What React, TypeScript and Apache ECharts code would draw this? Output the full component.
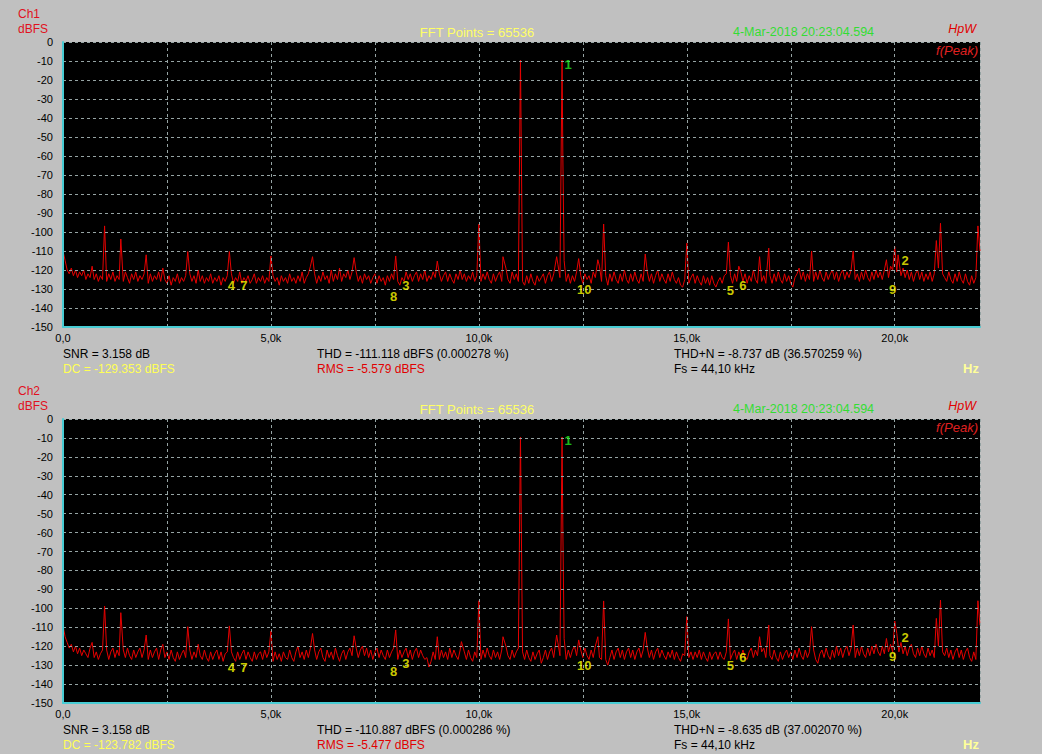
import React, { useEffect, useRef } from "react";
import * as echarts from "echarts";

// ---------- data ----------
const STEP_HZ = 50; // spacing of the noise-floor samples below
const F_MAX_HZ = 22050;
const Y_MIN_DB = -150;
const Y_MAX_DB = 0;

const xLabelTicksHz = [0, 5000, 10000, 15000, 20000];

// Noise floor, channel 1 (dBFS), one value every 50 Hz from 0 Hz to 22050 Hz
const ch1Floor = [
  -110,-115,-120,-122,-119,-123,-120,-124,-121,-123,-120,-125,-122,-124,-118,-125,-122,-126,-123,-125,
  -123,-126,-122,-125,-121,-126,-123,-125,-122,-126,-121,-124,-127,-122,-125,-121,-126,-123,-125,-122,
  -124,-127,-122,-126,-123,-125,-121,-126,-119,-125,-127,-123,-128,-124,-126,-122,-127,-124,-126,-123,
  -125,-122,-126,-123,-127,-120,-126,-123,-127,-124,-126,-122,-127,-124,-126,-123,-128,-124,-126,-123,
  -125,-122,-127,-124,-126,-121,-127,-124,-126,-123,-127,-125,-122,-127,-124,-126,-123,-127,-124,-126,
  -127,-123,-126,-124,-128,-123,-126,-124,-127,-122,-126,-124,-127,-123,-126,-121,-127,-124,-122,-118,
  -125,-122,-127,-123,-126,-121,-125,-123,-127,-120,-126,-122,-125,-119,-126,-122,-124,-120,-125,-121,
  -124,-121,-126,-123,-127,-122,-125,-123,-127,-124,-122,-127,-123,-126,-124,-128,-123,-126,-122,-125,
  -123,-126,-128,-124,-126,-121,-125,-122,-126,-123,-121,-126,-122,-125,-120,-126,-123,-125,-121,-124,
  -126,-122,-126,-123,-121,-126,-122,-125,-127,-122,-125,-120,-125,-122,-126,-123,-125,-121,-126,-123,
  -123,-126,-122,-125,-121,-125,-127,-122,-126,-123,-121,-126,-122,-119,-125,-127,-121,-125,-122,-126,
  -123,-126,-128,-123,-127,-122,-126,-128,-123,-126,-124,-122,-127,-123,-121,-126,-122,-120,-117,-124,
  -124,-115,-126,-122,-127,-123,-126,-121,-126,-123,-127,-122,-125,-123,-127,-121,-124,-120,-118,-126,
  -127,-123,-128,-122,-126,-121,-125,-127,-122,-126,-120,-125,-127,-122,-126,-121,-125,-127,-122,-126,
  -123,-121,-126,-122,-127,-123,-120,-126,-122,-125,-127,-122,-126,-121,-125,-127,-124,-128,-129,-125,
  -123,-127,-124,-122,-127,-123,-126,-128,-123,-127,-124,-128,-123,-127,-129,-126,-124,-127,-123,-122,
  -126,-123,-127,-122,-126,-123,-121,-126,-122,-127,-123,-126,-120,-125,-127,-122,-126,-123,-127,-122,
  -123,-127,-122,-126,-121,-125,-127,-122,-126,-123,-127,-129,-124,-122,-119,-125,-121,-126,-122,-125,
  -122,-126,-121,-125,-120,-124,-126,-121,-125,-122,-120,-125,-121,-126,-122,-120,-125,-121,-124,-120,
  -121,-125,-122,-126,-121,-125,-120,-124,-126,-121,-125,-120,-124,-121,-125,-120,-117,-124,-118,-120,
  -119,-121,-118,-123,-119,-124,-120,-125,-121,-126,-122,-120,-125,-121,-126,-122,-125,-121,-126,-122,
  -121,-119,-117,-122,-124,-126,-121,-125,-127,-122,-126,-121,-125,-127,-122,-126,-128,-123,-127,-124,
  -124,-110,
];

// Noise floor, channel 2 (dBFS), one value every 50 Hz from 0 Hz to 22050 Hz
const ch2Floor = [
  -109,-115,-118,-121,-119,-123,-120,-124,-121,-125,-122,-124,-126,-121,-118,-126,-123,-127,-124,-122,
  -126,-122,-127,-123,-121,-126,-122,-125,-127,-122,-126,-121,-125,-127,-122,-126,-123,-121,-126,-122,
  -123,-127,-122,-126,-123,-121,-127,-122,-119,-126,-123,-127,-122,-126,-128,-123,-127,-124,-122,-126,
  -126,-122,-127,-123,-126,-119,-125,-127,-122,-126,-128,-123,-127,-124,-122,-127,-123,-128,-124,-123,
  -127,-123,-126,-128,-123,-127,-124,-122,-127,-123,-126,-128,-123,-127,-124,-123,-127,-122,-126,-123,
  -126,-128,-123,-127,-124,-128,-123,-126,-127,-122,-126,-128,-123,-120,-126,-123,-127,-122,-126,-121,
  -126,-122,-127,-123,-121,-126,-128,-122,-126,-123,-127,-121,-125,-128,-124,-122,-127,-123,-121,-125,
  -123,-121,-126,-122,-120,-125,-121,-126,-122,-127,-123,-121,-126,-122,-125,-127,-122,-126,-123,-121,
  -125,-127,-122,-126,-123,-121,-126,-122,-127,-123,-121,-126,-122,-125,-127,-126,-131,-128,-123,-127,
  -123,-127,-122,-126,-123,-127,-121,-126,-122,-125,-127,-122,-126,-123,-127,-122,-126,-128,-123,-126,
  -123,-127,-122,-126,-121,-125,-127,-122,-126,-123,-127,-122,-126,-120,-125,-127,-122,-126,-123,-121,
  -126,-123,-127,-122,-126,-128,-123,-127,-124,-122,-129,-126,-122,-127,-123,-121,-126,-120,-118,-125,
  -124,-116,-127,-122,-126,-122,-120,-125,-127,-122,-126,-121,-125,-127,-122,-126,-120,-119,-126,-127,
  -123,-127,-130,-126,-122,-127,-123,-121,-126,-122,-127,-123,-121,-126,-122,-127,-123,-121,-126,-122,
  -125,-121,-126,-122,-127,-123,-121,-126,-122,-125,-127,-123,-126,-122,-127,-123,-126,-128,-124,-125,
  -122,-126,-123,-127,-123,-126,-122,-127,-123,-126,-128,-123,-127,-124,-123,-127,-123,-126,-127,-123,
  -125,-127,-124,-122,-127,-123,-126,-122,-126,-127,-123,-121,-126,-122,-125,-127,-123,-121,-126,-122,
  -125,-127,-122,-126,-128,-123,-127,-124,-122,-126,-123,-127,-122,-126,-121,-125,-127,-122,-126,-123,
  -126,-122,-127,-129,-124,-122,-126,-121,-125,-127,-122,-126,-120,-125,-121,-126,-122,-120,-125,-121,
  -124,-126,-121,-125,-120,-124,-126,-121,-125,-120,-124,-119,-123,-125,-120,-124,-117,-123,-119,-123,
  -120,-121,-123,-118,-124,-120,-125,-121,-119,-124,-126,-121,-125,-120,-124,-126,-121,-125,-122,-126,
  -122,-120,-118,-123,-125,-121,-126,-122,-127,-123,-121,-126,-122,-127,-123,-121,-126,-128,-123,-127,
  -126,-109,
];

// Spectral lines (Hz, dBFS)
const ch1SpikeHz = [1000, 1390, 2000, 3000, 4000, 5000, 6000, 7000, 8000, 9000, 10000, 10580, 11000, 11870, 12000, 12020, 12400, 12860, 13000, 14000, 15000, 16000, 16250, 16750, 16970, 18000, 19000, 19800, 20000, 20080, 21000, 21100, 22000];
const ch1SpikeDb = [-96.8, -103.7, -112, -110.3, -110.3, -112.6, -113, -113.5, -112.6, -115.3, -95.8, -113, -9.5, -113, -9.5, -62, -114, -114.6, -95.8, -111.6, -105.9, -105.3, -118, -113, -108.5, -110, -110, -114.6, -107.7, -112, -104.5, -95.4, -96.8];

const ch2SpikeHz = [1000, 1390, 2000, 3000, 4000, 5000, 6000, 7000, 8000, 9000, 9580, 10000, 10580, 11000, 11870, 12000, 12020, 12400, 12860, 13000, 14000, 15000, 16000, 16750, 16970, 18000, 19000, 19800, 20000, 20050, 21000, 21100, 22000];
const ch2SpikeDb = [-98.8, -102.3, -114.1, -109.7, -109.3, -112, -113.3, -114.5, -111.4, -115, -117.6, -96, -115, -9.5, -114.1, -9.5, -60, -116.7, -115, -96.1, -112.7, -104.4, -105.6, -115, -108.8, -109.7, -108.8, -115.9, -106.7, -113.3, -105.3, -95.6, -96];

// Harmonic markers: number, frequency (Hz), level of the label (dBFS)
const markerNames = ["1", "2", "3", "4", "5", "6", "7", "8", "9", "10"];
const markerHz = [12000, 20100, 8100, 3900, 15900, 16200, 4200, 7800, 19800, 12300];
const ch1MarkerDb = [-12.1, -115.1, -128.2, -128.4, -130.9, -127.9, -128.4, -134.1, -130.2, -130];
const ch2MarkerDb = [-11.6, -115.5, -129.1, -131.4, -130.3, -126.1, -131.4, -133.5, -125.2, -130.3];

// Texts
const channelNames = ["Ch1", "Ch2"];
const fftText = "FFT Points = 65536";
const dateText = "4-Mar-2018 20:23:04.594";
const snrTexts = ["SNR = 3.158 dB", "SNR = 3.158 dB"];
const thdTexts = ["THD = -111.118 dBFS (0.000278 %)", "THD = -110.887 dBFS (0.000286 %)"];
const thdnTexts = ["THD+N = -8.737 dB (36.570259 %)", "THD+N = -8.635 dB (37.002070 %)"];
const dcTexts = ["DC = -129.353 dBFS", "DC = -123.782 dBFS"];
const rmsTexts = ["RMS = -5.579 dBFS", "RMS = -5.477 dBFS"];
const fsTexts = ["Fs = 44,10 kHz", "Fs = 44,10 kHz"];

// ---------- helpers ----------
function buildTrace(floor: number[], spikeHz: number[], spikeDb: number[]): [number, number][] {
  const pts: [number, number][] = [];
  floor.forEach((v, i) => {
    const f = i * STEP_HZ;
    if (!spikeHz.some((s) => Math.abs(s - f) < 25)) pts.push([f, v]);
  });
  spikeHz.forEach((f, i) => pts.push([f, spikeDb[i]]));
  pts.sort((a, b) => a[0] - b[0]);
  return pts;
}

const FONT_FAMILY = "'Liberation Sans', Arial, sans-serif";
const font = (size: number, extra = "") => `${extra} ${size}px ${FONT_FAMILY}`.trim();

function txt(text: string, x: number, y: number, fill: string, f: string, align = "left") {
  return {
    type: "text",
    silent: true,
    z: 100,
    style: {
      text,
      x,
      y,
      fill,
      font: f,
      align,
      textAlign: align,
      verticalAlign: "middle",
      textVerticalAlign: "middle",
    },
  };
}

export default function App() {
  const ref = useRef<HTMLDivElement>(null);

  useEffect(() => {
    if (!ref.current) return;
    const chart = echarts.init(ref.current, undefined, { renderer: "svg" });

    const gridTops = [42, 419];
    const gridHeights = [285, 284];
    const floors = [ch1Floor, ch2Floor];
    const spikeHz = [ch1SpikeHz, ch2SpikeHz];
    const spikeDb = [ch1SpikeDb, ch2SpikeDb];
    const markerDb = [ch1MarkerDb, ch2MarkerDb];

    const axisLineStyle = { color: "#48ccd4", width: 2 };
    const splitLineStyle = { color: "#96a4a4", type: [3, 3] as any, width: 1 };

    const grids = gridTops.map((top, i) => ({
      left: 63,
      top,
      width: 917,
      height: gridHeights[i],
      show: true,
      backgroundColor: "#000000",
      borderWidth: 0,
    }));

    const xAxes = gridTops.map((_, i) => ({
      type: "value",
      gridIndex: i,
      min: 0,
      max: F_MAX_HZ,
      interval: 2500,
      axisLine: { show: true, onZero: false, lineStyle: axisLineStyle },
      axisTick: { show: false },
      splitLine: { show: true, lineStyle: splitLineStyle },
      axisLabel: {
        color: "#000",
        fontSize: 11,
        fontFamily: FONT_FAMILY,
        margin: 5,
        showMaxLabel: false,
        formatter: (v: number) =>
          xLabelTicksHz.includes(v) ? (v / 1000).toFixed(1).replace(".", ",") + (v === 0 ? "" : "k") : "",
      },
      z: 5,
    }));

    const yAxes = gridTops.map((_, i) => ({
      type: "value",
      gridIndex: i,
      min: Y_MIN_DB,
      max: Y_MAX_DB,
      interval: 10,
      axisLine: { show: true, onZero: false, lineStyle: axisLineStyle },
      axisTick: { show: false },
      splitLine: { show: true, lineStyle: splitLineStyle },
      axisLabel: { color: "#000", fontSize: 11, fontFamily: FONT_FAMILY, margin: 10 },
      z: 5,
    }));

    const series: any[] = [];
    gridTops.forEach((_, i) => {
      series.push({
        type: "line",
        xAxisIndex: i,
        yAxisIndex: i,
        data: buildTrace(floors[i], spikeHz[i], spikeDb[i]),
        showSymbol: false,
        symbol: "none",
        silent: true,
        clip: true,
        lineStyle: { color: "#e60000", width: 1 },
        z: 3,
      });
      series.push({
        type: "scatter",
        xAxisIndex: i,
        yAxisIndex: i,
        symbolSize: 1,
        silent: true,
        itemStyle: { color: "rgba(0,0,0,0)" },
        data: markerNames.map((n, k) => ({
          name: n,
          value: [markerHz[k], markerDb[i][k]],
          label: { color: n === "1" ? "#22ee22" : "#ffff00" },
        })),
        label: {
          show: true,
          position: "right",
          distance: 2,
          formatter: "{b}",
          fontSize: 13,
          fontWeight: "bold",
          fontFamily: FONT_FAMILY,
        },
        z: 10,
      });
    });

    const graphics: any[] = [];
    gridTops.forEach((top, i) => {
      const dy = top - 42;
      const bottom = top + gridHeights[i];
      graphics.push(txt(channelNames[i], 18, 14 + dy, "#e01020", font(12)));
      graphics.push(txt("dBFS", 18, 28.5 + dy, "#e01020", font(12)));
      graphics.push(txt(fftText, 477, 32 + dy, "#ffff66", font(13), "center"));
      graphics.push(txt(dateText, 733, 32 + dy, "#33dd33", font(12.5)));
      graphics.push(txt("HpW", 976, 29 + dy, "#e00000", font(12.5, "italic"), "right"));
      graphics.push(txt("f(Peak)", 978, 50.5 + dy, "#e02020", font(13, "italic"), "right"));
      graphics.push(txt(snrTexts[i], 63, bottom + 26.5, "#000", font(12)));
      graphics.push(txt(thdTexts[i], 317, bottom + 26.5, "#000", font(12)));
      graphics.push(txt(thdnTexts[i], 674, bottom + 26.5, "#000", font(12)));
      graphics.push(txt(dcTexts[i], 63, bottom + 41.5, "#ffff55", font(12)));
      graphics.push(txt(rmsTexts[i], 317, bottom + 41.5, "#e00000", font(12)));
      graphics.push(txt(fsTexts[i], 674, bottom + 41.5, "#000", font(12)));
      graphics.push(txt("Hz", 979, bottom + 41, "#ffff99", font(13, "bold"), "right"));
    });

    chart.setOption({
      animation: false,
      backgroundColor: "#c0c0c0",
      grid: grids,
      xAxis: xAxes,
      yAxis: yAxes,
      series,
      graphic: { elements: graphics },
    });

    return () => chart.dispose();
  }, []);

  return (
    <div
      ref={ref}
      style={{ position: "fixed", left: 0, top: 0, width: 1042, height: 754 }}
    />
  );
}
